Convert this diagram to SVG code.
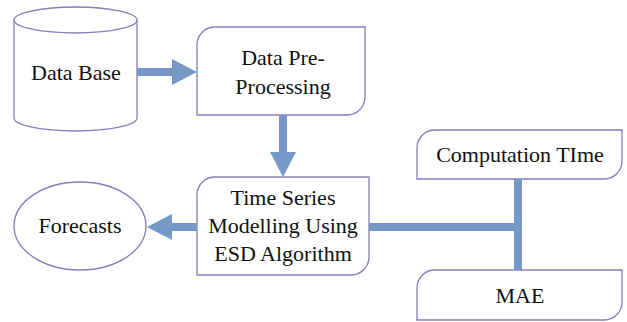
<svg xmlns="http://www.w3.org/2000/svg" width="627" height="322" viewBox="0 0 627 322">
<defs>
<style>
.shape{fill:#fff;stroke:#8a7cbc;stroke-width:1.3}
.conn{stroke:#7599c6;stroke-width:8;fill:none}
.head{fill:#7599c6}
</style>
</defs>
<rect width="627" height="322" fill="#fff"/>
<g id="database">
<path class="shape" d="M14,20 A61.5,13 0 0 1 137,20 L137,118 A61.5,13 0 0 1 14,118 Z"/>
<path class="shape" d="M14,20 A61.5,13 0 0 0 137,20"/>
<text font-family="Liberation Serif" font-size="22" fill="#111" text-anchor="middle" x="76" y="80">Data Base</text>
</g>
<g id="preprocessing">
<path class="shape" d="M215,27 L365,27 L365,97 A18,18 0 0 1 347,115 L197,115 L197,45 A18,18 0 0 1 215,27 Z"/>
<text font-family="Liberation Serif" font-size="22" fill="#111" text-anchor="middle" x="283" y="65">Data Pre-</text>
<text font-family="Liberation Serif" font-size="22" fill="#111" text-anchor="middle" x="283" y="94">Processing</text>
</g>
<g id="timeseries">
<path class="shape" d="M215,177 L369,177 L369,257 A18,18 0 0 1 351,275 L197,275 L197,195 A18,18 0 0 1 215,177 Z"/>
<text font-family="Liberation Serif" font-size="22" fill="#111" text-anchor="middle" x="283" y="205">Time Series</text>
<text font-family="Liberation Serif" font-size="22" fill="#111" text-anchor="middle" x="283" y="233">Modelling Using</text>
<text font-family="Liberation Serif" font-size="22" fill="#111" text-anchor="middle" x="283" y="261">ESD Algorithm</text>
</g>
<g id="forecasts">
<ellipse class="shape" cx="80" cy="226" rx="66" ry="44"/>
<text font-family="Liberation Serif" font-size="22" fill="#111" text-anchor="middle" x="80" y="233">Forecasts</text>
</g>
<g id="computation">
<path class="shape" d="M435,130 L622,130 L622,161 A18,18 0 0 1 604,179 L417,179 L417,148 A18,18 0 0 1 435,130 Z"/>
<text font-family="Liberation Serif" font-size="22" fill="#111" text-anchor="middle" x="520" y="162">Computation TIme</text>
</g>
<g id="mae">
<path class="shape" d="M435,270 L622,270 L622,302 A18,18 0 0 1 604,320 L417,320 L417,288 A18,18 0 0 1 435,270 Z"/>
<text font-family="Liberation Serif" font-size="22" fill="#111" text-anchor="middle" x="520" y="303">MAE</text>
</g>
<g id="connectors">
<line class="conn" x1="137" y1="72" x2="174" y2="72"/>
<polygon class="head" points="172,59 197,72 172,85"/>
<line class="conn" x1="283" y1="115" x2="283" y2="154"/>
<polygon class="head" points="270,152 283,177 296,152"/>
<line class="conn" x1="197" y1="227" x2="170" y2="227"/>
<polygon class="head" points="172,214 147,227 172,240"/>
<line class="conn" x1="369" y1="227" x2="518" y2="227"/>
<line class="conn" x1="518" y1="179" x2="518" y2="270"/>
</g>
</svg>
